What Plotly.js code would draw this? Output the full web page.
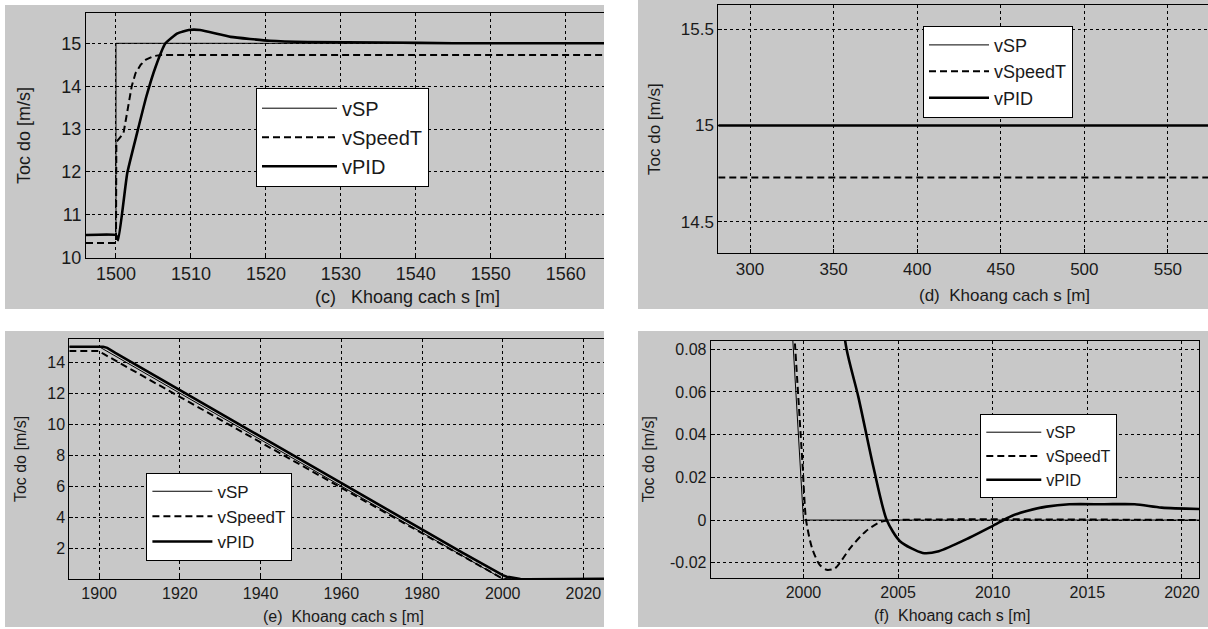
<!DOCTYPE html>
<html>
<head>
<meta charset="utf-8">
<script src="https://cdn.plot.ly/plotly-3.0.1.min.js"></script>
<style>html,body{margin:0;padding:0;background:#fff;}#chart{width:1208px;height:629px;}</style>
</head>
<body>
<div id="chart"></div>
<script>
// ---------- DATA ----------
const seriesNames = ["vSP", "vSpeedT", "vPID"];
const xTitles = ["(c)   Khoang cach s [m]", "(d)  Khoang cach s [m]", "(e)  Khoang cach s [m]", "(f)  Khoang cach s [m]"];
const yTitle = "Toc do [m/s]";

// panel (c)
const cSP_x = [1496, 1500, 1500, 1565.1];
const cSP_y = [10.53, 10.53, 15, 15];
const cST_x = [1496, 1500, 1500.05, 1501, 1501.6, 1502.1, 1502.6, 1503.3, 1504, 1505, 1506, 1565.1];
const cST_y = [10.34, 10.34, 12.7, 12.9, 13.5, 14.0, 14.3, 14.5, 14.62, 14.7, 14.73, 14.73];
const cPID_x = [1496, 1500, 1500.3, 1501.5, 1502.8, 1504.05, 1505.3, 1506.6, 1508.2, 1509.7, 1511.2, 1515.3, 1520.5, 1525.6, 1535.9, 1545, 1565.1];
const cPID_y = [10.53, 10.53, 10.41, 11.97, 12.9, 13.76, 14.46, 15.0, 15.23, 15.31, 15.31, 15.15, 15.06, 15.03, 15.02, 15.0, 15.0];

// panel (d)
const d_x = [281, 574];
const dSP_y = [15, 15];
const dST_y = [14.73, 14.73];
const dPID_y = [15, 15];

// panel (e)
const eSP_x = [1892.6, 1900, 2000, 2025.1];
const eSP_y = [15, 15, 0, 0];
const eST_x = [1892.6, 1900, 1901, 1999.9, 2000.14, 2001.2, 2002.5, 2004.5, 2025.1];
const eST_y = [14.73, 14.73, 14.55, 0.03, 0, -0.023, -0.013, 0, 0];
const ePID_x = [1892.6, 1901, 1902, 1903, 1904, 1990, 1998, 2000, 2001, 2002.3, 2003, 2003.7, 2004.4, 2006.3, 2010, 2014, 2017.5, 2025.1];
const ePID_y = [15, 15, 14.93, 14.78, 14.6, 1.7, 0.5, 0.25, 0.15, 0.08, 0.055, 0.025, 0, -0.015, -0.003, 0.0074, 0.0074, 0.005];

// panel (f)
const fSP_x = [1995.1, 2000, 2020.9];
const fSP_y = [0.735, 0, 0];
const fST_x = [1999.0, 1999.57, 1999.94, 2000.14, 2000.45, 2000.85, 2001.22, 2001.67, 2002.48, 2003.3, 2004.1, 2004.9, 2020.9];
const fST_y = [0.16, 0.08, 0.0278, 0, -0.013, -0.0209, -0.0233, -0.0226, -0.013, -0.0052, -0.0008, 0, 0];
const fPID_x = [2001.5, 2002.28, 2002.9, 2003.7, 2004.4, 2005.1, 2006.3, 2007.15, 2008.77, 2009.99, 2011.0, 2011.8, 2012.84, 2014.05, 2015.9, 2017.5, 2018.93, 2020.9];
const fPID_y = [0.13, 0.08, 0.0577, 0.0247, 0, -0.0099, -0.0154, -0.0146, -0.0083, -0.0028, 0.0019, 0.0042, 0.0063, 0.0074, 0.0074, 0.0074, 0.0058, 0.0052];

// tick labels
const cXticks = [1500, 1510, 1520, 1530, 1540, 1550, 1560];
const cYticks = [10, 11, 12, 13, 14, 15];
const dXticks = [300, 350, 400, 450, 500, 550];
const dYticks = [14.5, 15, 15.5];
const dYlabels = ["14.5", "15", "15.5"];
const eXticks = [1900, 1920, 1940, 1960, 1980, 2000, 2020];
const eYticks = [2, 4, 6, 8, 10, 12, 14];
const fXticks = [2000, 2005, 2010, 2015, 2020];
const fYticks = [-0.02, 0, 0.02, 0.04, 0.06, 0.08];
const fYlabels = ["-0.02", "0", "0.02", "0.04", "0.06", "0.08"];

// ---------- LAYOUT ----------
const W = 1208, H = 629;
const px = (a, b) => [a / W, b / W];
const py = (top, bottom) => [1 - bottom / H, 1 - top / H];
const FONT = "Liberation Sans, Arial, sans-serif";
const TXT = "#1a1a1a";

const styles = [
  {color: "#000", width: 1, dash: "solid"},
  {color: "#000", width: 2, dash: "7px,4px"},
  {color: "#000", width: 2.6, dash: "solid"}
];

function tr(x, y, i, ax, leg, smooth) {
  const line = Object.assign({}, styles[i]);
  if (smooth) { line.shape = "spline"; line.smoothing = smooth; }
  return {x: x, y: y, type: "scatter", mode: "lines", name: seriesNames[i],
    line: line, xaxis: "x" + ax, yaxis: "y" + ax, legend: leg, hoverinfo: "skip"};
}

const data = [
  tr(cSP_x, cSP_y, 0, "", "legend"), tr(cST_x, cST_y, 1, "", "legend"), tr(cPID_x, cPID_y, 2, "", "legend", 0.4),
  tr(d_x, dSP_y, 0, "2", "legend2"), tr(d_x, dST_y, 1, "2", "legend2"), tr(d_x, dPID_y, 2, "2", "legend2"),
  tr(eSP_x, eSP_y, 0, "3", "legend3"), tr(eST_x, eST_y, 1, "3", "legend3"), tr(ePID_x, ePID_y, 2, "3", "legend3"),
  tr(fSP_x, fSP_y, 0, "4", "legend4"), tr(fST_x, fST_y, 1, "4", "legend4", 0.7), tr(fPID_x, fPID_y, 2, "4", "legend4", 0.7)
];

function xa(domain, range, ticks, fs, anchor, mirror) {
  return {domain: domain, range: range, tickvals: ticks, anchor: anchor,
    showline: true, linecolor: "#000", linewidth: 1, mirror: mirror,
    ticks: "inside", ticklen: 4, tickcolor: "#000",
    showgrid: true, gridcolor: "#000", gridwidth: 1, griddash: "3px,3px",
    zeroline: false, tickfont: {family: FONT, size: fs, color: TXT}, fixedrange: true};
}
function ya(domain, range, ticks, labels, fs, anchor, mirror, standoff, tfs) {
  const o = xa(domain, range, ticks, fs, anchor, mirror);
  if (labels) o.ticktext = labels;
  o.title = {text: yTitle, font: {family: FONT, size: tfs, color: TXT}, standoff: standoff};
  return o;
}

const dom = {
  c: {x: px(86, 604), y: py(13.3, 257.7)},
  d: {x: px(718.3, 1208), y: py(5, 253.3)},
  e: {x: px(69.3, 604), y: py(339, 579)},
  f: {x: px(710.7, 1199), y: py(340.7, 577.7)}
};

function legend(xp, ytop, fs, iw) {
  return {x: xp / W, y: 1 - ytop / H, xanchor: "left", yanchor: "top", xref: "paper", yref: "paper",
    bgcolor: "#fff", bordercolor: "#000", borderwidth: 1,
    font: {family: FONT, size: fs, color: TXT}, tracegroupgap: 0, itemwidth: iw};
}

function gray(x0, y0, x1, y1) {
  return {type: "rect", xref: "paper", yref: "paper", x0: x0 / W, x1: x1 / W, y0: 1 - y1 / H, y1: 1 - y0 / H,
    fillcolor: "#c8c8c8", line: {width: 0}, layer: "below"};
}
function xt(text, cx, cy, fs) {
  return {text: text, xref: "paper", yref: "paper", x: cx / W, y: 1 - cy / H, xanchor: "center", yanchor: "middle",
    showarrow: false, font: {family: FONT, size: fs, color: TXT}};
}

const layout = {
  width: W, height: H,
  margin: {l: 0, r: 0, t: 0, b: 0},
  paper_bgcolor: "#fff", plot_bgcolor: "#fff",
  showlegend: true,
  xaxis: xa(dom.c.x, [1496, 1565.1], cXticks, 18, "y", true),
  yaxis: ya(dom.c.y, [10, 15.7], cYticks, null, 18, "x", false, 26, 18),
  xaxis2: xa(dom.d.x, [281, 574], dXticks, 17, "y2", true),
  yaxis2: ya(dom.d.y, [14.337, 15.625], dYticks, dYlabels, 17, "x2", false, 15, 17),
  xaxis3: xa(dom.e.x, [1892.6, 2025.1], eXticks, 16, "y3", true),
  yaxis3: ya(dom.e.y, [0, 15.5], eYticks, null, 16, "x3", false, 16, 16),
  xaxis4: xa(dom.f.x, [1995.1, 2020.9], fXticks, 16, "y4", true),
  yaxis4: ya(dom.f.y, [-0.027, 0.084], fYticks, fYlabels, 16, "x4", true, 11, 16),
  legend: legend(256, 87.7, 20, 75),
  legend2: legend(923, 25.7, 18, 60),
  legend3: legend(146.4, 472.7, 17, 60),
  legend4: legend(980.3, 414.3, 16, 55),
  shapes: [gray(5, 5, 604, 309), gray(638, 0, 1208, 309), gray(5, 331, 604, 627), gray(638, 331, 1208, 627)],
  annotations: [
    xt(xTitles[0], 407, 296.7, 18), xt(xTitles[1], 1004, 295, 17),
    xt(xTitles[2], 343, 616.7, 16), xt(xTitles[3], 952, 615, 16)
  ]
};

Plotly.newPlot("chart", data, layout, {displayModeBar: false, staticPlot: true});
</script>
</body>
</html>
